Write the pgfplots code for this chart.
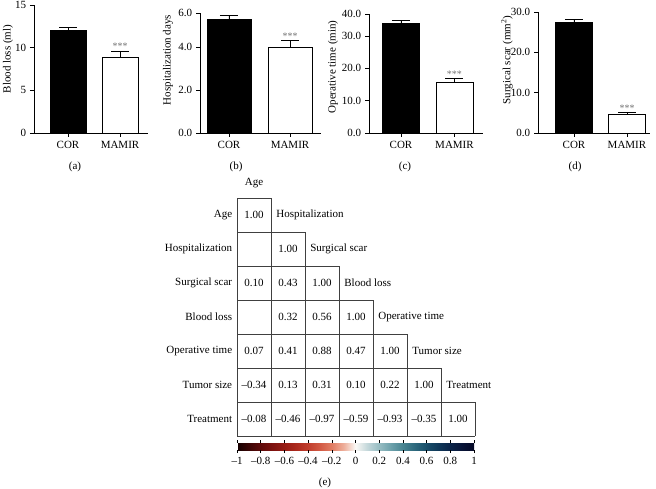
\documentclass[border=0pt]{standalone}
\usepackage{fontspec}
\setmainfont{Liberation Serif}
\usepackage{pgfplots}
\pgfplotsset{compat=1.18}
\newcommand\ff{\fontsize{11}{13}\selectfont}
\pgfplotsset{
 colormap={corr}{rgb255=(20,0,0) rgb255=(60,5,5) rgb255=(95,10,10) rgb255=(125,18,15) rgb255=(150,28,20) rgb255=(172,42,30) rgb255=(192,62,45) rgb255=(210,90,68) rgb255=(225,125,100) rgb255=(238,175,155) rgb255=(250,248,245) rgb255=(195,215,218) rgb255=(150,188,194) rgb255=(108,160,170) rgb255=(72,132,145) rgb255=(45,105,125) rgb255=(25,78,105) rgb255=(15,55,88) rgb255=(10,35,72) rgb255=(8,20,55) rgb255=(5,8,38)},
 barax/.style={
   scale only axis, anchor=south west,
   axis x line=bottom, axis y line=left, axis line style={-, line width=0.8pt},
   tick align=outside, major tick length=4pt, tick style={black, line width=0.8pt},
   xtick={0,1}, xticklabels={COR,MAMIR}, ymin=0, clip=false,
   ylabel style={anchor=center, rotate=0},
 },
 blackbar/.style={ybar, bar shift=0pt, fill=black, draw=black, line width=0.8pt,
   error bars/.cd, y dir=plus, y explicit,
   error bar style={line width=0.8pt, black},
   error mark options={rotate=90, mark size=9pt, line width=0.8pt, black}},
 whitebar/.style={ybar, bar shift=0pt, fill=white, draw=black, line width=0.8pt,
   error bars/.cd, y dir=plus, y explicit,
   error bar style={line width=0.8pt, black},
   error mark options={rotate=90, mark size=9pt, line width=0.8pt, black}},
 stars/.style={draw=none, nodes near coords, point meta=explicit symbolic,
   nodes near coords style={anchor=south, inner sep=1pt, text=black!55, font=\fontsize{10}{12}\selectfont}},
}
\begin{document}
\ff
\begin{tikzpicture}[font=\ff]
\path[use as bounding box] (0,0) rectangle (656pt,488pt);

% (a)
\begin{axis}[barax, at={(34pt,355pt)}, width=114pt, height=128pt,
  xmin=-0.654, xmax=1.538, ymax=15, ytick={0,5,10,15}, yticklabels={0,5,10,15},
  bar width=36pt, ylabel={Blood loss (ml)},
  ylabel style={at={(axis description cs:-0.228,0.578)}}]
\addplot[blackbar] coordinates {(0,12.05) +- (0,0.35)};
\addplot[whitebar] coordinates {(1,8.9) +- (0,0.7)};
\addplot[stars] coordinates {(1,9.6) [***]};
\end{axis}

% (b)
\begin{axis}[barax, at={(200pt,355pt)}, width=121pt, height=120pt,
  xmin=-0.475, xmax=1.508, ymax=5.6, ytick={0,2,4,5.6}, yticklabels={0.0,2.0,4.0,6.0},
  bar width=44pt, ylabel={Hospitalization days},
  ylabel style={at={(axis description cs:-0.264,0.608)}}]
\addplot[blackbar] coordinates {(0,5.3) +- (0,0.17)};
\addplot[whitebar] coordinates {(1,4.0) +- (0,0.3)};
\addplot[stars] coordinates {(1,4.3) [***]};
\end{axis}

% (c)
\begin{axis}[barax, at={(369pt,355pt)}, width=114pt, height=119pt,
  xmin=-0.598, xmax=1.533, ymax=36.8, ytick={0,10,20,30,36.8}, yticklabels={0.0,10.0,20.0,30.0,40.0},
  bar width=37pt, ylabel={Operative time (min)},
  ylabel style={at={(axis description cs:-0.316,0.555)}}]
\addplot[blackbar] coordinates {(0,33.8) +- (0,0.9)};
\addplot[whitebar] coordinates {(1,15.8) +- (0,1.1)};
\addplot[stars] coordinates {(1,16.9) [***]};
\end{axis}

% (d)
\begin{axis}[barax, at={(538pt,355pt)}, width=112pt, height=121pt,
  xmin=-0.679, xmax=1.434, ymax=30, ytick={0,10,20,30}, yticklabels={0.0,10.0,20.0,30.0},
  bar width=37pt, ylabel={Surgical scar (mm\textsuperscript{2})},
  ylabel style={at={(axis description cs:-0.277,0.603)}}]
\addplot[blackbar] coordinates {(0,27.5) +- (0,0.55)};
\addplot[whitebar] coordinates {(1,4.5) +- (0,0.5)};
\addplot[stars] coordinates {(1,5.0) [***]};
\end{axis}

\node at (75pt,321pt) {(a)};
\node at (236pt,321pt) {(b)};
\node at (405pt,321pt) {(c)};
\node at (575pt,321pt) {(d)};

% (e) correlation matrix
\begin{axis}[at={(237pt,52pt)}, anchor=south west, scale only axis,
  width=238pt, height=238pt, xmin=0, xmax=7, ymin=0, ymax=7, y dir=reverse,
  clip=false, axis line style={draw=none}, tick style={draw=none},
  xtick=\empty, ytick={0.5,1.5,2.5,3.5,4.5,5.5,6.5},
  yticklabels={Age,Hospitalization,Surgical scar,Blood loss,Operative time,Tumor size,Treatment},
  yticklabel style={xshift=-1pt}]
\addplot[black!75, line width=0.7pt, unbounded coords=jump] table {
x y
0 0
1 0
nan nan
0 1
2 1
nan nan
0 2
3 2
nan nan
0 3
4 3
nan nan
0 4
5 4
nan nan
0 5
6 5
nan nan
0 6
7 6
nan nan
0 7
7 7
nan nan
0 0
0 7
nan nan
1 0
1 7
nan nan
2 1
2 7
nan nan
3 2
3 7
nan nan
4 3
4 7
nan nan
5 4
5 7
nan nan
6 5
6 7
nan nan
7 6
7 7
};
\addplot[draw=none, nodes near coords, point meta=explicit symbolic,
  nodes near coords align=center] table[meta=v] {
x y v
0.5 0.5 1.00
1.5 1.5 1.00
0.5 2.5 0.10
1.5 2.5 0.43
2.5 2.5 1.00
1.5 3.5 0.32
2.5 3.5 0.56
3.5 3.5 1.00
0.5 4.5 0.07
1.5 4.5 0.41
2.5 4.5 0.88
3.5 4.5 0.47
4.5 4.5 1.00
0.5 5.5 –0.34
1.5 5.5 0.13
2.5 5.5 0.31
3.5 5.5 0.10
4.5 5.5 0.22
5.5 5.5 1.00
0.5 6.5 –0.08
1.5 6.5 –0.46
2.5 6.5 –0.97
3.5 6.5 –0.59
4.5 6.5 –0.93
5.5 6.5 –0.35
6.5 6.5 1.00
};
\addplot[draw=none, nodes near coords, point meta=explicit symbolic,
  nodes near coords align=west, nodes near coords style={xshift=1.5pt}] coordinates {
(1,0.5) [Hospitalization]
(2,1.5) [Surgical scar]
(3,2.5) [Blood loss]
(4,3.5) [Operative time]
(5,4.5) [Tumor size]
(6,5.5) [Treatment]
};
\addplot[draw=none, nodes near coords, point meta=explicit symbolic,
  nodes near coords align=center] coordinates {(0.5,-0.45) [Age]};
\end{axis}

% colorbar
\begin{axis}[at={(237pt,38pt)}, anchor=south west, scale only axis,
  width=237pt, height=7pt, hide axis, xmin=-1, xmax=1, ymin=0, ymax=1,
  colormap name=corr, point meta min=-1, point meta max=1,
  colorbar horizontal,
  colorbar style={at={(0,0)}, anchor=south west, width=237pt, height=7pt,
    xtick={-1,-0.8,-0.6,-0.4,-0.2,0,0.2,0.4,0.6,0.8,1},
    xticklabels={–1,–0.8,–0.6,–0.4,–0.2,0,0.2,0.4,0.6,0.8,1},
    tick align=outside, major tick length=3pt,
    tick style={black, line width=0.6pt}, axis line style={draw=none}}]
\end{axis}
\node at (325pt,5pt) {(e)};
\end{tikzpicture}
\end{document}
